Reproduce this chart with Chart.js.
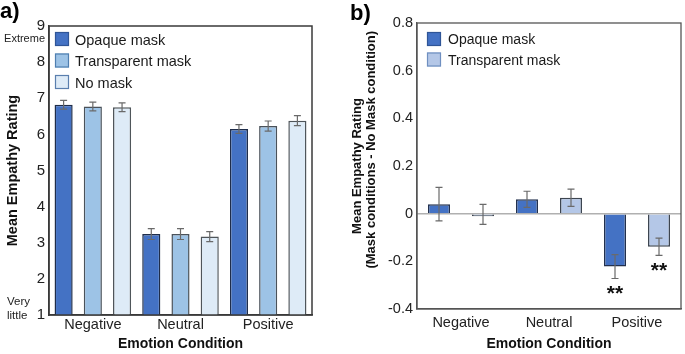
<!DOCTYPE html>
<html>
<head>
<meta charset="utf-8">
<script src="https://cdn.jsdelivr.net/npm/chart.js@4/dist/chart.umd.min.js"></script>
<style>
  html, body { margin: 0; padding: 0; background: #fff; }
  #wrap { position: relative; width: 685px; height: 354px; overflow: hidden; }
  #ca { position: absolute; left: 0; top: 0; }
  #cb { position: absolute; left: 340px; top: 0; }
</style>
</head>
<body>
<div id="wrap">
  <canvas id="ca" width="340" height="354"></canvas>
  <canvas id="cb" width="345" height="354"></canvas>
</div>
<script>
// ---------- data ----------
const categories = ['Negative', 'Neutral', 'Positive'];

// Panel a: mean empathy rating (1-9)
const aOpaque = [6.82, 3.24, 6.15];
const aTransparent = [6.77, 3.24, 6.23];
const aNoMask = [6.75, 3.17, 6.38];
const aOpaqueErr = [0.12, 0.15, 0.12];
const aTransparentErr = [0.12, 0.15, 0.14];
const aNoMaskErr = [0.12, 0.14, 0.14];
const aTicks = [1, 2, 3, 4, 5, 6, 7, 8, 9];

// Panel b: difference to No-mask condition
const bOpaque = [0.04, 0.06, -0.222];
const bTransparent = [-0.003, 0.067, -0.139];
const bOpaqueErr = [0.07, 0.034, 0.05];
const bTransparentErr = [0.042, 0.036, 0.036];
const bOpaqueSig = ['', '', '**'];
const bTransparentSig = ['', '', '**'];
const bTicks = [-0.4, -0.2, 0, 0.2, 0.4, 0.6, 0.8];

const FONT = "'Liberation Sans', Arial, Helvetica, sans-serif";

// ---------- plugins ----------
const framePlugin = {
  id: 'frame',
  afterDraw(chart, args, opts) {
    const {ctx, chartArea: a} = chart;
    ctx.save();
    ctx.strokeStyle = opts.color || '#404040';
    ctx.lineWidth = opts.width || 1.5;
    ctx.strokeRect(a.left, a.top, a.right - a.left, a.bottom - a.top);
    ctx.restore();
  }
};

const errorPlugin = {
  id: 'errBars',
  afterDatasetsDraw(chart, args, opts) {
    const {ctx} = chart;
    const ys = chart.scales.y;
    ctx.save();
    chart.data.datasets.forEach((ds, di) => {
      const meta = chart.getDatasetMeta(di);
      if (!ds.errors) return;
      meta.data.forEach((el, i) => {
        const v = ds.data[i], e = ds.errors[i];
        const x = el.x;
        const y1 = ys.getPixelForValue(v + e);
        const y2 = ys.getPixelForValue(v - e);
        ctx.strokeStyle = opts.color || '#666';
        ctx.lineWidth = opts.width || 1.2;
        const cw = opts.cap || 3.5;
        ctx.beginPath();
        ctx.moveTo(x, y1); ctx.lineTo(x, y2);
        ctx.moveTo(x - cw, y1); ctx.lineTo(x + cw, y1);
        ctx.moveTo(x - cw, y2); ctx.lineTo(x + cw, y2);
        ctx.stroke();
        if (ds.sig && ds.sig[i]) {
          ctx.fillStyle = '#111';
          ctx.font = 'bold 21px ' + FONT;
          ctx.textAlign = 'center';
          ctx.textBaseline = 'middle';
          ctx.fillText(ds.sig[i], x, y2 + (opts.sigOffset || 14));
        }
      });
    });
    ctx.restore();
  }
};

const boxLegendPlugin = {
  id: 'boxLegend',
  afterDraw(chart, args, opts) {
    const {ctx} = chart;
    ctx.save();
    chart.data.datasets.forEach((ds, i) => {
      const y = opts.y + i * opts.row;
      ctx.fillStyle = ds.backgroundColor;
      ctx.fillRect(opts.x, y, opts.box, opts.box);
      ctx.strokeStyle = ds.legendBorder || '#555';
      ctx.lineWidth = 1.2;
      ctx.strokeRect(opts.x + 0.5, y + 0.5, opts.box - 1, opts.box - 1);
      ctx.fillStyle = '#1a1a1a';
      ctx.font = opts.font + 'px ' + FONT;
      ctx.textAlign = 'left';
      ctx.textBaseline = 'middle';
      ctx.fillText(ds.label, opts.textX, y + opts.box / 2 + 1.5);
    });
    ctx.restore();
  }
};

const textPlugin = {
  id: 'extraText',
  afterDraw(chart, args, opts) {
    const {ctx} = chart;
    const ys = chart.scales.y;
    ctx.save();
    (opts.items || []).forEach(t => {
      ctx.fillStyle = t.color || '#111';
      ctx.font = t.font;
      ctx.textAlign = t.align || 'left';
      ctx.textBaseline = 'middle';
      const y = (t.value !== undefined) ? ys.getPixelForValue(t.value) + (t.dy || 0) : t.y;
      ctx.fillText(t.text, t.x, y);
    });
    ctx.restore();
  }
};

function fmt(v) {
  const r = Math.round(v * 10) / 10;
  return r === 0 ? '0' : String(r);
}

// ---------- chart a ----------
new Chart(document.getElementById('ca'), {
  type: 'bar',
  data: {
    labels: categories,
    datasets: [
      { label: 'Opaque mask', data: aOpaque, errors: aOpaqueErr,
        backgroundColor: '#4472C4', borderColor: '#1f2d4a', legendBorder: '#2F5597', borderWidth: 1.5 },
      { label: 'Transparent mask', data: aTransparent, errors: aTransparentErr,
        backgroundColor: '#9DC3E6', borderColor: '#4a525a', legendBorder: '#4f7fb0', borderWidth: 1.5 },
      { label: 'No mask', data: aNoMask, errors: aNoMaskErr,
        backgroundColor: '#DEEBF7', borderColor: '#4f555a', legendBorder: '#5a7fae', borderWidth: 1.5 }
    ]
  },
  options: {
    responsive: false,
    animation: false,
    devicePixelRatio: 1,
    layout: { padding: { left: 0, top: 26, right: 28, bottom: 0 } },
    datasets: { bar: { categoryPercentage: 1.0, barPercentage: 0.62, base: 1 } },
    plugins: {
      legend: { display: false },
      tooltip: { enabled: false },
      frame: { color: '#3a3a3a', width: 1.5 },
      errBars: { color: '#6a6a6a', width: 1.2, cap: 3.5 },
      boxLegend: { x: 55, y: 32, row: 21.5, box: 14, textX: 75, font: 14.5 },
      extraText: { items: [
        { text: 'a)', x: 0, y: 12, font: 'bold 22px ' + FONT, color: '#000' },
        { text: 'Extreme', x: 45, value: 9, dy: 13, align: 'right', font: '11px ' + FONT, color: '#222' },
        { text: 'Very', x: 7, value: 1, dy: -13, align: 'left', font: '11.5px ' + FONT, color: '#222' },
        { text: 'little', x: 7, value: 1, dy: 1, align: 'left', font: '11.5px ' + FONT, color: '#222' }
      ] }
    },
    scales: {
      x: {
        afterFit(axis) { axis.height = 39; },
        grid: { display: false, drawTicks: false },
        border: { display: true, color: '#3a3a3a', width: 1.5 },
        ticks: { color: '#222', font: { family: FONT, size: 14.5 }, padding: 1 },
        title: { display: true, text: 'Emotion Condition', color: '#111',
                 font: { family: FONT, size: 14, weight: 'bold' }, padding: { top: 0, bottom: 1 } }
      },
      y: {
        min: 1, max: 9,
        afterFit(axis) { axis.width = 49; },
        afterBuildTicks(axis) { axis.ticks = aTicks.map(v => ({ value: v })); },
        grid: { display: false, drawTicks: false },
        border: { display: true, color: '#3a3a3a', width: 1.5 },
        ticks: { color: '#222', font: { family: FONT, size: 15 }, padding: 4 },
        title: { display: true, text: 'Mean Empathy Rating', color: '#111',
                 font: { family: FONT, size: 14.5, weight: 'bold', lineHeight: 1.2 }, padding: { top: 4.3, bottom: 0 } }
      }
    }
  },
  plugins: [framePlugin, errorPlugin, boxLegendPlugin, textPlugin]
});

// ---------- chart b ----------
new Chart(document.getElementById('cb'), {
  type: 'bar',
  data: {
    labels: categories,
    datasets: [
      { label: 'Opaque mask', data: bOpaque, errors: bOpaqueErr, sig: bOpaqueSig,
        backgroundColor: '#4472C4', borderColor: '#22304d', legendBorder: '#2F5597', borderWidth: 1.5 },
      { label: 'Transparent mask', data: bTransparent, errors: bTransparentErr, sig: bTransparentSig,
        backgroundColor: '#B4C7E7', borderColor: '#3d4550', legendBorder: '#6f8fc0', borderWidth: 1.5,
        minBarLength: 2.5 }
    ]
  },
  options: {
    responsive: false,
    animation: false,
    devicePixelRatio: 1,
    layout: { padding: { left: 0, top: 23, right: 4, bottom: 0 } },
    datasets: { bar: { categoryPercentage: 1.0, barPercentage: 0.5 } },
    plugins: {
      legend: { display: false },
      tooltip: { enabled: false },
      frame: { color: '#555', width: 1.3 },
      errBars: { color: '#6a6a6a', width: 1.2, cap: 3.5, sigOffset: 16 },
      boxLegend: { x: 87, y: 32, row: 20.5, box: 14, textX: 108, font: 14 },
      extraText: { items: [
        { text: 'b)', x: 10, y: 14, font: 'bold 22px ' + FONT, color: '#000' }
      ] }
    },
    scales: {
      x: {
        afterFit(axis) { axis.height = 45; },
        grid: { display: false, drawTicks: false },
        border: { display: true, color: '#555', width: 1.3 },
        ticks: { color: '#222', font: { family: FONT, size: 14.5 }, padding: 5 },
        title: { display: true, text: 'Emotion Condition', color: '#111',
                 font: { family: FONT, size: 14, weight: 'bold' }, padding: { top: 0, bottom: 1 } }
      },
      y: {
        min: -0.4, max: 0.8,
        afterFit(axis) { axis.width = 77; },
        afterBuildTicks(axis) { axis.ticks = bTicks.map(v => ({ value: v })); },
        grid: {
          drawTicks: false,
          color: c => (c.tick && Math.abs(c.tick.value) < 1e-9) ? '#b0b0b0' : 'rgba(0,0,0,0)',
          lineWidth: 1.5
        },
        border: { display: true, color: '#555', width: 1.3 },
        ticks: { color: '#222', font: { family: FONT, size: 14.5 }, padding: 4, callback: v => fmt(v) },
        title: { display: true, text: ['Mean Empathy Rating', '         (Mask conditions - No Mask condition)'], color: '#111',
                 font: { family: FONT, size: 13, weight: 'bold', lineHeight: 1.12 }, padding: { top: 9.7, bottom: 0 } }
      }
    }
  },
  plugins: [framePlugin, errorPlugin, boxLegendPlugin, textPlugin]
});
</script>
</body>
</html>
